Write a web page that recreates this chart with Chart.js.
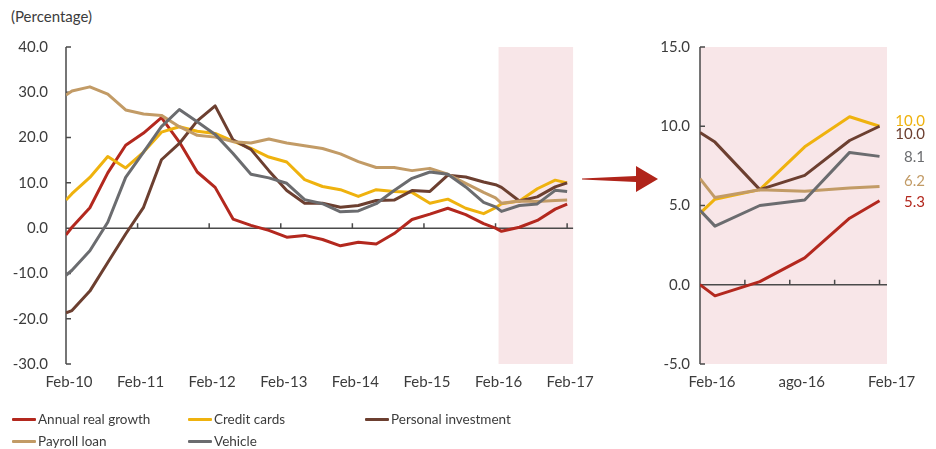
<!DOCTYPE html>
<html>
<head>
<meta charset="utf-8">
<script src="https://cdn.jsdelivr.net/npm/chart.js@4.4.1/dist/chart.umd.min.js"></script>
<style>
  body { margin: 0; background: #fff; font-family: Lato, sans-serif; color: #3c3c3c; }
  #wrap { position: relative; width: 936px; height: 449px; overflow: hidden; }
  .box { position: absolute; top: 0; height: 400px; }
  #left { left: 0; width: 600px; }
  #right { left: 600px; width: 336px; }
  #unit { position: absolute; left: 11px; top: 7px; font-size: 15px; }
  #arrow { position: absolute; left: 0; top: 0; }
  .item { position: absolute; display: flex; align-items: center; font-size: 13.5px; height: 18px; }
  .item i { display: inline-block; width: 24px; height: 3px; margin-right: 2px; border-radius: 1px; }
</style>
</head>
<body>
<div id="wrap">
  <div id="unit">(Percentage)</div>
  <div class="box" id="left"><canvas id="mainChart"></canvas></div>
  <div class="box" id="right"><canvas id="zoomChart"></canvas></div>
  <svg id="arrow" width="936" height="449">
    <polygon points="582,178.5 636,176 636,166 658,179 636,192 636,182 582,179.5" fill="#b0241a"/>
  </svg>
  <div id="legend"></div>
</div>
<script>
// quarterly observations (plus Feb of the first / zoom / last year)
const periods = ['Feb-10','Mar-10','Jun-10','Sep-10','Dec-10','Mar-11','Jun-11','Sep-11','Dec-11',
  'Mar-12','Jun-12','Sep-12','Dec-12','Mar-13','Jun-13','Sep-13','Dec-13','Mar-14','Jun-14','Sep-14',
  'Dec-14','Mar-15','Jun-15','Sep-15','Dec-15','Feb-16','Mar-16','Jun-16','Sep-16','Dec-16','Feb-17'];

const annualRealGrowth = [-1.5, 0.2, 4.5, 12.2, 18.3, 21.0, 24.4, 19.0, 12.4, 9.0, 2.0, 0.6, -0.5, -2.0, -1.6, -2.5,
  -3.9, -3.1, -3.5, -1.2, 1.9, 3.1, 4.4, 3.0, 1.0, 0.0, -0.7, 0.2, 1.7, 4.2, 5.3];
const creditCards = [6.2, 7.6, 11.2, 15.8, 13.3, 16.8, 21.2, 22.4, 21.4, 20.9, 19.2, 17.6, 15.7, 14.6, 10.7, 9.2,
  8.5, 7.0, 8.5, 8.1, 7.9, 5.5, 6.4, 4.4, 3.2, 4.5, 5.4, 6.0, 8.7, 10.6, 10.0];
const personalInvestment = [-18.7, -18.2, -13.9, -7.6, -1.3, 4.6, 15.1, 18.7, 23.7, 27.0, 19.5, 17.4, 12.7, 8.3, 5.5, 5.5,
  4.6, 5.0, 6.1, 6.2, 8.3, 8.1, 11.7, 11.3, 10.2, 9.6, 9.0, 6.0, 6.9, 9.1, 10.0];
const payrollLoan = [29.4, 30.3, 31.2, 29.6, 26.1, 25.2, 24.9, 22.4, 20.5, 20.1, 19.1, 18.8, 19.7, 18.8, 18.2, 17.6,
  16.4, 14.7, 13.4, 13.4, 12.7, 13.2, 11.9, 9.9, 7.9, 6.7, 5.5, 6.0, 5.9, 6.1, 6.2];
const vehicle = [-10.4, -9.3, -5.0, 1.3, 11.2, 16.8, 22.4, 26.2, 23.5, 20.7, 16.5, 11.9, 11.1, 9.9, 6.3, 5.4,
  3.6, 3.8, 5.4, 8.3, 11.0, 12.4, 11.9, 9.1, 5.7, 4.7, 3.7, 5.0, 5.35, 8.35, 8.1];

const yearTicks = ['Feb-10','Feb-11','Feb-12','Feb-13','Feb-14','Feb-15','Feb-16','Feb-17'];
const zoomTicks = ['Feb-16','ago-16','Feb-17'];
const zoomFrom = 'Feb-16';

const series = [
  { label: 'Annual real growth', values: annualRealGrowth, color: '#b3281e' },
  { label: 'Credit cards', values: creditCards, color: '#efb20e' },
  { label: 'Personal investment', values: personalInvestment, color: '#6c3f30' },
  { label: 'Payroll loan', values: payrollLoan, color: '#c29b66' },
  { label: 'Vehicle', values: vehicle, color: '#6b6c6f' }
];

const MON = { Jan: 1, Feb: 2, Mar: 3, Apr: 4, May: 5, Jun: 6, Jul: 7, Aug: 8, ago: 8, Sep: 9, Oct: 10, Nov: 11, Dec: 12 };
function monthIndex(p) {
  const [m, y] = p.split('-');
  return (+y - 10) * 12 + MON[m] - 2;
}
const fromIdx = monthIndex(zoomFrom);

function makeDatasets(minMonth) {
  return series.map((s, i) => ({
    label: s.label,
    data: periods.map((p, k) => ({ x: monthIndex(p), y: s.values[k] })).filter(d => d.x >= minMonth),
    borderColor: s.color,
    borderWidth: 3,
    pointRadius: 0,
    tension: 0,
    borderJoinStyle: 'round',
    order: series.length - i
  }));
}

// pink band, axis line, zero line and inward tick marks
const frame = {
  id: 'frame',
  beforeDatasetsDraw(chart, args, opts) {
    const { ctx, chartArea: a, scales: { x, y } } = chart;
    ctx.save();
    const x0 = opts.shadeFrom == null ? a.left : x.getPixelForValue(opts.shadeFrom) + 3;
    ctx.fillStyle = '#f8e6e8';
    ctx.fillRect(x0, a.top, a.right - x0, a.bottom - a.top);
    ctx.strokeStyle = '#4a4a4a';
    ctx.lineWidth = 1.5;
    ctx.beginPath();
    ctx.moveTo(a.left, a.top);
    ctx.lineTo(a.left, a.bottom);
    y.ticks.forEach(t => {
      const py = y.getPixelForValue(t.value);
      ctx.moveTo(a.left, py);
      ctx.lineTo(a.left + 5, py);
    });
    const y0 = y.getPixelForValue(0);
    ctx.moveTo(a.left, y0);
    ctx.lineTo(a.right, y0);
    x.ticks.forEach(t => {
      const px = x.getPixelForValue(t.value);
      ctx.moveTo(px, y0);
      ctx.lineTo(px, y0 - 5);
    });
    ctx.stroke();
    ctx.restore();
  },
  afterDatasetsDraw(chart, args, opts) {
    if (!opts.endLabels) return;
    const { ctx, chartArea: a, scales: { y } } = chart;
    ctx.save();
    ctx.font = '15px Lato, sans-serif';
    ctx.textAlign = 'right';
    ctx.textBaseline = 'middle';
    chart.data.datasets.forEach((ds, i) => {
      const last = ds.data[ds.data.length - 1];
      ctx.fillStyle = ds.borderColor;
      ctx.fillText(last.y.toFixed(1), a.right + 38, y.getPixelForValue(last.y) + opts.nudge[i]);
    });
    ctx.restore();
  }
};
Chart.register(frame);

const tickFont = { family: 'Lato, sans-serif', size: 15 };
const tickColor = '#3c3c3c';

function options(cfg) {
  return {
    responsive: true,
    maintainAspectRatio: false,
    animation: false,
    layout: { padding: { top: 47, right: cfg.padRight, bottom: 0, left: 0 } },
    plugins: {
      legend: { display: false },
      tooltip: { enabled: false },
      frame: cfg.frame
    },
    scales: {
      x: {
        type: 'linear',
        min: cfg.xMin,
        max: cfg.xMax,
        grid: { display: false, drawTicks: false },
        border: { display: false },
        afterBuildTicks: s => { s.ticks = cfg.xTicks.map(v => ({ value: v })); },
        afterFit: s => { s.height = 36; },
        ticks: {
          autoSkip: false, maxRotation: 0, padding: 9, labelOffset: cfg.labelOffset,
          color: tickColor, font: tickFont,
          callback: v => cfg.xLabel(v)
        }
      },
      y: {
        min: cfg.yMin,
        max: cfg.yMax,
        grid: { display: false, drawTicks: false },
        border: { display: false },
        afterFit: s => { s.width = cfg.yWidth; },
        ticks: {
          stepSize: cfg.yStep, padding: cfg.yPad, color: tickColor, font: tickFont,
          callback: v => v.toFixed(1)
        }
      }
    }
  };
}

new Chart(document.getElementById('mainChart'), {
  type: 'line',
  data: { datasets: makeDatasets(-Infinity) },
  options: options({
    padRight: 26, xMin: 0, xMax: 85, yMin: -30, yMax: 40, yStep: 10, yWidth: 66, yPad: 18,
    labelOffset: 3,
    xTicks: yearTicks.map(monthIndex),
    xLabel: v => yearTicks.find(t => monthIndex(t) === v) || '',
    frame: { shadeFrom: fromIdx, endLabels: false }
  })
});

const zoomTickMonths = [];
for (let m = fromIdx; m <= monthIndex('Feb-17'); m += 3) zoomTickMonths.push(m);

new Chart(document.getElementById('zoomChart'), {
  type: 'line',
  data: { datasets: makeDatasets(fromIdx) },
  options: options({
    padRight: 49, xMin: fromIdx, xMax: fromIdx + 12.5, yMin: -5, yMax: 15, yStep: 5, yWidth: 100, yPad: 10,
    labelOffset: 12,
    xTicks: zoomTickMonths,
    xLabel: v => zoomTicks.find(t => monthIndex(t) === v) || '',
    frame: { shadeFrom: null, endLabels: true, nudge: [1, -5, 8, -5, 1] }
  })
});

// legend in three columns
const legend = document.getElementById('legend');
const cols = [12, 188, 365];
series.forEach((s, i) => {
  const el = document.createElement('div');
  el.className = 'item';
  el.style.left = cols[i % 3] + 'px';
  el.style.top = (410 + Math.floor(i / 3) * 22) + 'px';
  el.innerHTML = '<i style="background:' + s.color + '"></i>' + s.label;
  legend.appendChild(el);
});
</script>
</body>
</html>
